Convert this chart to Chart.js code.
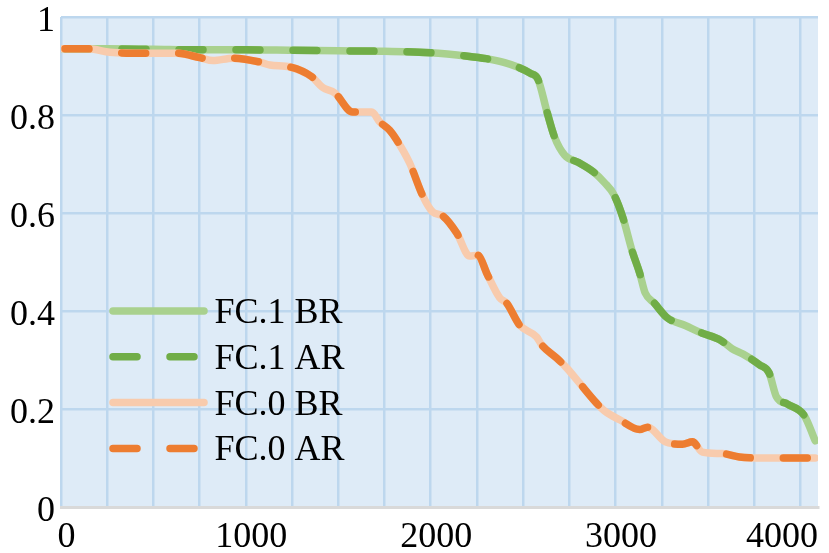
<!DOCTYPE html>
<html>
<head>
<meta charset="utf-8">
<script src="https://cdn.jsdelivr.net/npm/chart.js@4.4.1/dist/chart.umd.min.js"></script>
<style>
  html, body { margin: 0; padding: 0; background: #fff; }
  #wrap { width: 829px; height: 553px; }
</style>
</head>
<body>
<div id="wrap"><canvas id="chart"></canvas></div>
<script>
// FC.1 curves (green)
const fc1X = [0, 250, 500, 750, 1000, 1250, 1500, 1750, 2000, 2200, 2300, 2400, 2470, 2540, 2580,
  2630, 2670, 2725, 2800, 2880, 2940, 2990, 3040, 3090, 3130, 3160, 3210, 3280, 3380, 3460,
  3570, 3630, 3690, 3780, 3830, 3870, 3930, 4020, 4080];
const fc1BR = [0.935, 0.935, 0.934, 0.933, 0.933, 0.932, 0.931, 0.930, 0.927, 0.920, 0.915, 0.907, 0.898, 0.885, 0.873,
  0.805, 0.755, 0.718, 0.703, 0.684, 0.662, 0.638, 0.590, 0.522, 0.478, 0.437, 0.416, 0.386, 0.370, 0.356,
  0.340, 0.323, 0.312, 0.290, 0.274, 0.225, 0.210, 0.187, 0.135];
const fc1AR = [0.935, 0.935, 0.934, 0.933, 0.933, 0.932, 0.931, 0.930, 0.927, 0.920, 0.915, 0.907, 0.898, 0.885, 0.873,
  0.805, 0.755, 0.718, 0.703, 0.684, 0.662, 0.638, 0.590, 0.522, 0.478, 0.437, 0.416, 0.386, 0.370, 0.356,
  0.340, 0.323, 0.312, 0.290, 0.274, 0.225, 0.210, 0.187, 0.135];

// FC.0 curves (orange)
const fc0X = [0, 150, 265, 465, 627, 751, 822, 930, 1076, 1130, 1238, 1357, 1416, 1481, 1578,
  1681, 1724, 1778, 1816, 1886, 1957, 2011, 2065, 2141, 2211, 2254, 2308, 2373, 2411, 2481,
  2573, 2600, 2681, 2735, 2805, 2897, 2941, 3022, 3130, 3173, 3270, 3362, 3416, 3470, 3578,
  3670, 3778, 4080];
const fc0BR = [0.935, 0.935, 0.928, 0.926, 0.926, 0.917, 0.911, 0.916, 0.908, 0.902, 0.898, 0.878, 0.856, 0.845, 0.806,
  0.806, 0.786, 0.769, 0.749, 0.702, 0.635, 0.602, 0.594, 0.559, 0.512, 0.514, 0.473, 0.427, 0.416, 0.371,
  0.347, 0.331, 0.304, 0.284, 0.253, 0.212, 0.196, 0.178, 0.158, 0.163, 0.133, 0.128, 0.133, 0.112, 0.109,
  0.102, 0.100, 0.100];
const fc0AR = [0.935, 0.935, 0.928, 0.926, 0.926, 0.917, 0.911, 0.916, 0.908, 0.902, 0.898, 0.878, 0.856, 0.845, 0.806,
  0.806, 0.786, 0.769, 0.749, 0.702, 0.635, 0.602, 0.594, 0.559, 0.512, 0.514, 0.473, 0.427, 0.416, 0.371,
  0.347, 0.331, 0.304, 0.284, 0.253, 0.212, 0.196, 0.178, 0.158, 0.163, 0.133, 0.128, 0.133, 0.112, 0.109,
  0.102, 0.100, 0.100];

const seriesNames = ['FC.1 BR', 'FC.1 AR', 'FC.0 BR', 'FC.0 AR'];
const xTickLabels = [0, 1000, 2000, 3000, 4000];
const yTickLabels = [0, 0.2, 0.4, 0.6, 0.8, 1];

const FONT = '36px "Liberation Serif", "Times New Roman", serif';

const toPoints = (xs, ys) => xs.map((x, i) => ({ x, y: ys[i] }));

// light blue plot background
const plotBackground = {
  id: 'plotBackground',
  beforeDraw(chart) {
    const { ctx, chartArea: a } = chart;
    ctx.save();
    ctx.fillStyle = '#deebf7';
    ctx.fillRect(a.left, a.top, a.right - a.left, a.bottom - a.top);
    ctx.restore();
  }
};

// x labels, nudged right like the original and kept inside the canvas
const xLabels = {
  id: 'xLabels',
  afterDraw(chart) {
    const { ctx, chartArea: a } = chart;
    const sx = chart.scales.x;
    ctx.save();
    ctx.font = FONT;
    ctx.fillStyle = '#000';
    ctx.textBaseline = 'alphabetic';
    xTickLabels.forEach((v) => {
      const text = String(v);
      const w = ctx.measureText(text).width;
      let left = sx.getPixelForValue(v) + 5.5 - w / 2;
      left = Math.min(left, a.right - w);
      ctx.fillText(text, left, a.bottom + 40);
    });
    ctx.restore();
  }
};

// legend sits inside the plot, lower left
const insideLegend = {
  id: 'insideLegend',
  afterDatasetsDraw(chart) {
    const { ctx, chartArea: a } = chart;
    ctx.save();
    ctx.font = FONT;
    ctx.textBaseline = 'alphabetic';
    chart.data.datasets.forEach((ds, i) => {
      const y = 311 + i * 45.8;
      ctx.beginPath();
      ctx.strokeStyle = ds.borderColor;
      ctx.lineWidth = ds.borderWidth;
      ctx.lineCap = 'round';
      ctx.setLineDash(ds.borderDash || []);
      ctx.moveTo(a.left + 52, y);
      ctx.lineTo(a.left + 143, y);
      ctx.stroke();
      ctx.setLineDash([]);
      ctx.fillStyle = '#000';
      ctx.fillText(ds.label, a.left + 153.5, y + 12);
    });
    ctx.restore();
  }
};

const solid = (label, data, color, order) => ({
  label, data, order,
  borderColor: color,
  borderWidth: 7.5,
  borderCapStyle: 'round',
  borderJoinStyle: 'round',
  pointRadius: 0,
  cubicInterpolationMode: 'monotone',
  fill: false
});

const dashed = (label, data, color, order) => ({
  ...solid(label, data, color, order),
  borderDash: [24, 33],
  borderDashOffset: -4
});

new Chart(document.getElementById('chart'), {
  type: 'line',
  data: {
    datasets: [
      solid(seriesNames[0], toPoints(fc1X, fc1BR), '#a9d18e', 3),
      dashed(seriesNames[1], toPoints(fc1X, fc1AR), '#70ad47', 2),
      solid(seriesNames[2], toPoints(fc0X, fc0BR), '#f8cbad', 1),
      dashed(seriesNames[3], toPoints(fc0X, fc0AR), '#ed7d31', 0)
    ]
  },
  options: {
    responsive: true,
    maintainAspectRatio: false,
    animation: false,
    events: [],
    layout: { padding: { top: 17, right: 11, bottom: 0, left: 0 } },
    plugins: {
      legend: { display: false },
      tooltip: { enabled: false }
    },
    scales: {
      x: {
        type: 'linear',
        min: 0,
        max: 4095,
        ticks: { display: false, stepSize: 250, includeBounds: false },
        grid: {
          drawTicks: false,
          lineWidth: 2.5,
          color: (c) => (c.tick && c.tick.value % 250 === 0 ? '#bdd7ee' : 'rgba(0,0,0,0)')
        },
        border: { color: '#d9d9d9', width: 3 },
        afterFit(s) {
          s.height = 46;
          s.paddingLeft = 0;
          s.paddingRight = 0;
        }
      },
      y: {
        min: 0,
        max: 1,
        afterBuildTicks(s) {
          s.ticks = yTickLabels.map((value) => ({ value }));
        },
        ticks: {
          font: { family: '"Liberation Serif", "Times New Roman", serif', size: 36 },
          color: '#000',
          padding: 6,
          labelOffset: 5,
          callback: (v) => String(v)
        },
        grid: {
          drawTicks: false,
          lineWidth: 2.5,
          color: (c) => (c.tick && c.tick.value === 0 ? 'rgba(0,0,0,0)' : '#bdd7ee')
        },
        border: { display: false },
        afterFit(s) {
          s.width = 61;
          s.paddingTop = 0;
          s.paddingBottom = 0;
        }
      }
    }
  },
  plugins: [plotBackground, xLabels, insideLegend]
});
</script>
</body>
</html>
